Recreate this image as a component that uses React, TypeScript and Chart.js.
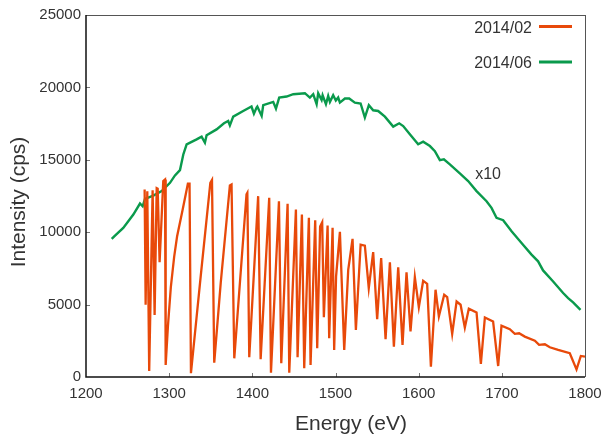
import React, { useEffect, useRef } from "react";
import { Chart, registerables } from "chart.js";

Chart.register(...registerables);

const FONT = "'Liberation Sans', Arial, sans-serif";

const febEnergy = [
  1270.5, 1271.7, 1273.7, 1276.0, 1280.1, 1282.5, 1285.0, 1286.2, 1288.5, 1292.9,
  1295.0, 1295.8, 1298.5, 1302.0, 1306.0, 1309.5, 1316.0, 1322.5, 1324.5, 1326.2,
  1338.0, 1349.5, 1351.5, 1354.2, 1362.0, 1373.0, 1375.0, 1378.3, 1393.0, 1394.0,
  1396.3, 1407.0, 1410.0, 1420.3, 1422.4, 1432.0, 1434.8, 1442.4, 1444.4, 1452.4,
  1454.4, 1459.6, 1462.4, 1468.0, 1470.0, 1475.6, 1478.0, 1481.5, 1484.0, 1486.0,
  1490.5, 1492.4, 1496.5, 1498.4, 1500.7, 1505.3, 1510.5, 1515.3, 1520.5, 1524.5,
  1530.2, 1535.3, 1540.0, 1545.3, 1550.1, 1554.9, 1560.2, 1565.4, 1570.2, 1575.4,
  1580.6, 1585.4, 1590.2, 1595.4, 1600.2, 1605.4, 1610.2, 1614.7, 1620.3, 1624.3,
  1630.7, 1634.3, 1640.3, 1645.6, 1650.4, 1655.5, 1660.3, 1669.6, 1674.8, 1679.6,
  1689.5, 1695.6, 1699.6, 1709.6, 1715.6, 1720.8, 1727.6, 1739.7, 1744.8, 1751.7,
  1757.7, 1767.7, 1781.7, 1789.8, 1795.0, 1800.0,
];
const febIntensity = [
  12950, 4990, 12830, 420, 12900, 4290, 13040, 13000, 7920, 13530,
  13640, 830, 3500, 6200, 8300, 9700, 11500, 13350, 13350, 260,
  7000, 13400, 13600, 990, 6500, 13230, 13300, 1290, 12620, 12720,
  1360, 12490, 1230, 12370, 300, 12140, 950, 11960, 300, 11570,
  1360, 11220, 600, 10990, 830, 10830, 1990, 10400, 10690, 4130,
  10460, 2680, 10300, 1870, 6950, 10020, 1870, 7400, 9540, 3250,
  9140, 9070, 6140, 8630, 4000, 8220, 2610, 7920, 2100, 7570,
  2220, 7230, 3140, 6900, 4830, 6650, 6440, 715, 6025, 4180,
  5680, 5520, 2980, 5215, 4990, 3415, 4720, 4450, 900, 4110,
  3830, 760, 3550, 3300, 2980, 3020, 2790, 2510, 2220, 2260,
  2050, 1870, 1640, 530, 1455, 1410,
];

const junEnergy = [
  1230.9, 1234.9, 1244.8, 1256.9, 1264.9, 1268.1, 1270.9, 1280.9, 1291.0, 1301.0,
  1307.0, 1313.0, 1317.0, 1321.0, 1333.0, 1339.0, 1343.0, 1345.0, 1357.0, 1365.9,
  1371.0, 1373.0, 1377.0, 1389.0, 1399.0, 1401.9, 1405.1, 1406.0, 1411.2, 1413.1,
  1425.1, 1428.4, 1432.3, 1441.2, 1449.2, 1463.2, 1469.2, 1473.2, 1477.3, 1479.2,
  1483.3, 1484.5, 1488.5, 1491.2, 1493.3, 1497.2, 1500.4, 1503.2, 1505.3, 1511.3,
  1516.5, 1523.3, 1530.2, 1535.3, 1540.1, 1545.3, 1551.3, 1559.4, 1569.4, 1576.6,
  1581.4, 1589.4, 1599.4, 1605.4, 1613.5, 1619.5, 1625.5, 1630.3, 1637.5, 1649.5,
  1659.5, 1669.6, 1681.6, 1687.6, 1693.6, 1701.6, 1711.7, 1723.7, 1735.7, 1743.6,
  1749.6, 1761.7, 1773.7, 1779.7, 1785.7, 1794.6,
];
const junIntensity = [
  9540, 9760, 10300, 11220, 11980, 11790, 12300, 12530, 12840, 13410,
  13920, 14290, 15370, 16070, 16410, 16600, 16180, 16690, 17100, 17520,
  17680, 17380, 17980, 18370, 18680, 18190, 18610, 18680, 18030, 18770,
  19000, 18540, 19300, 19370, 19530, 19600, 19300, 19530, 18840, 19600,
  19130, 19450, 18840, 19410, 19000, 19460, 19100, 19300, 18950, 19230,
  19230, 18950, 18890, 17920, 18770, 18420, 18370, 17980, 17290, 17520,
  17330, 16760, 16070, 16250, 15950, 15600, 14980, 15030, 14680, 14060,
  13530, 12840, 12140, 11680, 10990, 10830, 10060, 9260, 8450, 7990,
  7360, 6600, 5800, 5450, 5150, 4640,
];

const seriesLabels = ["2014/02", "2014/06"];
const seriesColors = ["#E8490A", "#0A9A4C"];
const xTitle = "Energy (eV)";
const yTitle = "Intensity (cps)";
const annotationText = "x10";
const annotationAt = { x: 1668, y: 13950 };

const decorPlugin = {
  id: "decor",
  afterDraw(chart: any) {
    const ctx = chart.ctx;
    const { left, right, top, bottom } = chart.chartArea;
    const xs = chart.scales.x;
    const ys = chart.scales.y;
    ctx.save();
    // inward ticks
    ctx.strokeStyle = "#777";
    ctx.lineWidth = 1;
    for (let v = 1300; v < 1800; v += 100) {
      const px = Math.round(xs.getPixelForValue(v)) + 0.5;
      ctx.beginPath();
      ctx.moveTo(px, bottom);
      ctx.lineTo(px, bottom - 4);
      ctx.stroke();
    }
    for (let v = 5000; v < 25000; v += 5000) {
      const py = Math.round(ys.getPixelForValue(v)) + 0.5;
      ctx.beginPath();
      ctx.moveTo(left, py);
      ctx.lineTo(left + 4, py);
      ctx.stroke();
    }
    // frame
    ctx.strokeStyle = "#555";
    ctx.lineWidth = 1;
    ctx.beginPath();
    ctx.moveTo(left, Math.round(top) + 0.5);
    ctx.lineTo(right, Math.round(top) + 0.5);
    ctx.moveTo(Math.round(right) + 0.5, top);
    ctx.lineTo(Math.round(right) + 0.5, bottom);
    ctx.stroke();
    ctx.strokeStyle = "#111";
    ctx.lineWidth = 1.5;
    ctx.beginPath();
    ctx.moveTo(left, top);
    ctx.lineTo(left, bottom);
    ctx.lineTo(right, bottom);
    ctx.stroke();

    // axis titles
    ctx.fillStyle = "#333";
    ctx.font = `21px ${FONT}`;
    ctx.textAlign = "center";
    ctx.textBaseline = "middle";
    ctx.fillText(xTitle, 351, 424);
    ctx.save();
    ctx.translate(19, (top + bottom) / 2 + 6);
    ctx.rotate(-Math.PI / 2);
    ctx.fillText(yTitle, 0, 0);
    ctx.restore();

    // legend
    ctx.font = `16px ${FONT}`;
    ctx.textAlign = "right";
    const rows = [27.5, 63];
    seriesLabels.forEach((lab, i) => {
      ctx.fillStyle = "#333";
      ctx.fillText(lab, 532, rows[i] + 1);
      ctx.strokeStyle = seriesColors[i];
      ctx.lineWidth = 3;
      ctx.beginPath();
      ctx.moveTo(539, rows[i] - 1);
      ctx.lineTo(572, rows[i] - 1);
      ctx.stroke();
    });

    // annotation
    ctx.fillStyle = "#333";
    ctx.textAlign = "left";
    ctx.font = `16px ${FONT}`;
    ctx.fillText(annotationText, xs.getPixelForValue(annotationAt.x), ys.getPixelForValue(annotationAt.y));
    ctx.restore();
  },
};

export default function App() {
  const canvasRef = useRef<HTMLCanvasElement | null>(null);

  useEffect(() => {
    document.body.style.margin = "0";
    const canvas = canvasRef.current;
    if (!canvas) return;
    const feb = febEnergy.map((x, i) => ({ x, y: febIntensity[i] }));
    const jun = junEnergy.map((x, i) => ({ x, y: junIntensity[i] }));
    const tickFont = { family: FONT, size: 15 };
    const plain = (v: any) => String(v);
    const chart = new Chart(canvas, {
      type: "line",
      data: {
        datasets: [
          {
            label: seriesLabels[0],
            data: feb,
            borderColor: seriesColors[0],
            backgroundColor: seriesColors[0],
            borderWidth: 2.3,
            pointRadius: 0,
            tension: 0,
            fill: false,
          },
          {
            label: seriesLabels[1],
            data: jun,
            borderColor: seriesColors[1],
            backgroundColor: seriesColors[1],
            borderWidth: 2.4,
            pointRadius: 0,
            tension: 0,
            fill: false,
          },
        ],
      },
      options: {
        animation: false,
        responsive: false,
        maintainAspectRatio: false,
        devicePixelRatio: 1,
        layout: { padding: { left: 0, right: 18, top: 15, bottom: 0 } },
        plugins: {
          legend: { display: false },
          tooltip: { enabled: false },
        },
        scales: {
          x: {
            type: "linear",
            min: 1200,
            max: 1800,
            grid: { display: false, drawTicks: false },
            border: { display: false },
            ticks: {
              stepSize: 100,
              color: "#333",
              font: tickFont,
              padding: 8,
              maxRotation: 0,
              autoSkip: false,
              callback: plain,
            },
            afterFit: (s: any) => {
              s.height = 60;
              s.paddingLeft = 0;
              s.paddingRight = 0;
            },
          },
          y: {
            type: "linear",
            min: 0,
            max: 25000,
            grid: { display: false, drawTicks: false },
            border: { display: false },
            ticks: {
              stepSize: 5000,
              color: "#333",
              font: tickFont,
              padding: 5,
              callback: plain,
            },
            afterFit: (s: any) => {
              s.width = 86;
              s.paddingTop = 0;
              s.paddingBottom = 0;
            },
          },
        },
      },
      plugins: [decorPlugin],
    });
    return () => chart.destroy();
  }, []);

  return (
    <div style={{ position: "absolute", left: 0, top: 0, width: 603, height: 437 }}>
      <canvas ref={canvasRef} width={603} height={437} style={{ width: 603, height: 437 }} />
    </div>
  );
}
